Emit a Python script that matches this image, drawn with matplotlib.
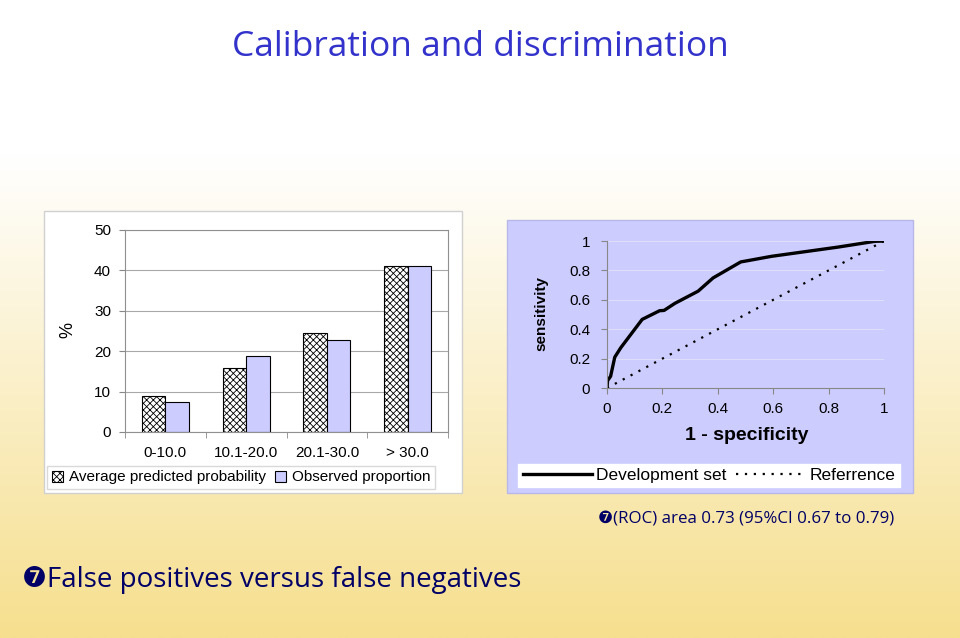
import numpy as np
import matplotlib.pyplot as plt
from matplotlib.patches import Rectangle
from matplotlib.colors import LinearSegmentedColormap

# calibration data (%)
groups = ["0-10.0", "10.1-20.0", "20.1-30.0", "> 30.0"]
predicted = [9.0, 15.8, 24.4, 41.1]
observed = [7.4, 18.7, 22.8, 41.2]

# ROC curve
fpr = [0, 0.002, 0.013, 0.028, 0.05, 0.127, 0.19, 0.206, 0.245, 0.329, 0.383, 0.483, 0.504, 0.594, 0.835, 0.967, 1.0]
tpr = [0, 0.05, 0.08, 0.21, 0.275, 0.467, 0.526, 0.528, 0.576, 0.659, 0.749, 0.858, 0.865, 0.896, 0.959, 0.998, 1.0]
ref_x = [0, 1]
ref_y = [0, 1]
roc_ticks = [0, 0.2, 0.4, 0.6, 0.8, 1]
roc_labels = ["0", "0.2", "0.4", "0.6", "0.8", "1"]

plt.rcParams['font.family'] = ['Liberation Sans', 'DejaVu Sans']
plt.rcParams['hatch.linewidth'] = 0.6

fig = plt.figure(figsize=(9.6, 6.38), dpi=100)

# slide background gradient
bg = fig.add_axes([0, 0, 1, 1], zorder=-10)
cmap = LinearSegmentedColormap.from_list("bg", [(0, "#ffffff"), (0.24, "#ffffff"), (1, "#f6df8e")])
grad = np.linspace(0, 1, 400).reshape(-1, 1)
bg.imshow(grad, aspect='auto', cmap=cmap, extent=[0, 1, 0, 1], origin='upper')
bg.axis('off')

# chart panels
fig.patches.append(Rectangle((0.0458, 0.2273), 0.4354, 0.442, transform=fig.transFigure,
                             facecolor='white', edgecolor='#d0d0d0', lw=1, zorder=-5))
fig.patches.append(Rectangle((0.5281, 0.2273), 0.4229, 0.4279, transform=fig.transFigure,
                             facecolor='#ccccff', edgecolor='#b8b8e8', lw=1, zorder=-5))

# bar chart
ax1 = fig.add_axes([0.1302, 0.3229, 0.3365, 0.3166])
x = np.arange(len(groups))
w = 0.29
ax1.bar(x - w/2, predicted, w, facecolor='white', edgecolor='black', hatch='xxxxx', lw=0.8,
        label='Average predicted probability')
ax1.bar(x + w/2, observed, w, facecolor='#ccccff', edgecolor='black', lw=0.8,
        label='Observed proportion')
ax1.set_xlim(-0.5, 3.5)
ax1.set_ylim(0, 50)
ax1.set_yticks([0, 10, 20, 30, 40, 50])
ax1.set_xticks(x)
ax1.set_xticklabels(groups)
ax1.set_xticks([-0.5, 0.5, 1.5, 2.5, 3.5], minor=True)
ax1.tick_params(axis='x', which='major', length=0, pad=10, labelsize=11)
ax1.tick_params(axis='x', which='minor', length=4, color='#888888')
ax1.tick_params(axis='y', length=4, color='#888888', labelsize=11, pad=6)
ax1.yaxis.grid(True, color='#a8a8a8', lw=0.8)
ax1.set_axisbelow(True)
for s in ax1.spines.values():
    s.set_color('#909090')
ax1.set_facecolor('none')
fig.text(68/960, 1 - 330/638, '%', rotation=90, fontsize=13, ha='center', va='center')
fig.legend(*ax1.get_legend_handles_labels(), loc='center', bbox_to_anchor=(241/960, 1 - 477.5/638),
           ncol=2, fontsize=11, frameon=True, fancybox=False, edgecolor='#d0d0d0',
           handlelength=0.7, handleheight=0.7, handletextpad=0.4, columnspacing=0.6,
           borderpad=0.3, borderaxespad=0)

# ROC chart
ax2 = fig.add_axes([0.6323, 0.3918, 0.2885, 0.2304])
ax2.set_facecolor('#ccccff')
ax2.plot(fpr, tpr, color='black', lw=2.4, label='Development set', solid_joinstyle='round')
ax2.plot(ref_x, ref_y, color='black', lw=1.6, ls=(0, (1, 3)), label='Referrence')
ax2.set_xlim(0, 1)
ax2.set_ylim(0, 1)
ax2.set_xticks(roc_ticks)
ax2.set_xticklabels(roc_labels)
ax2.set_yticks(roc_ticks)
ax2.set_yticklabels(roc_labels)
ax2.tick_params(axis='both', length=4, color='#888888', labelsize=11)
ax2.tick_params(axis='x', pad=6)
ax2.tick_params(axis='y', pad=8)
ax2.yaxis.grid(True, color='#dedef8', lw=0.8)
ax2.set_axisbelow(True)
ax2.spines['top'].set_visible(False)
ax2.spines['right'].set_visible(False)
ax2.spines['left'].set_color('#888888')
ax2.spines['bottom'].set_color('#888888')
fig.text(541/960, 1 - 313/638, 'sensitivity', rotation=90, fontsize=11, fontweight='bold',
         ha='center', va='center')
fig.text(747/960, 1 - 436/638, '1 - specificity', fontsize=14, fontweight='bold',
         ha='center', va='center')
fig.legend(*ax2.get_legend_handles_labels(), loc='center', bbox_to_anchor=(709/960, 1 - 475.5/638),
           ncol=2, fontsize=12.5, frameon=True, fancybox=False, edgecolor='white', facecolor='white',
           framealpha=1, handlelength=4.0, handletextpad=0.2, columnspacing=0.6,
           borderpad=0.25, borderaxespad=0)

# slide text
fig.text(0.5, 1 - 47/638, 'Calibration and discrimination', fontsize=25.5, color='#3333cc',
         ha='center', va='center', family=['Open Sans', 'DejaVu Sans'])
fig.text(598/960, 1 - 520/638, '\u277c(ROC) area 0.73 (95%CI 0.67 to 0.79)', fontsize=12.2,
         color='#000066', ha='left', va='center', family=['Open Sans', 'DejaVu Sans'])
fig.text(22/960, 1 - 580/638, '\u277cFalse positives versus false negatives', fontsize=20,
         color='#000066', ha='left', va='center', family=['Open Sans', 'DejaVu Sans'])

fig.savefig('out.png', dpi=100)
